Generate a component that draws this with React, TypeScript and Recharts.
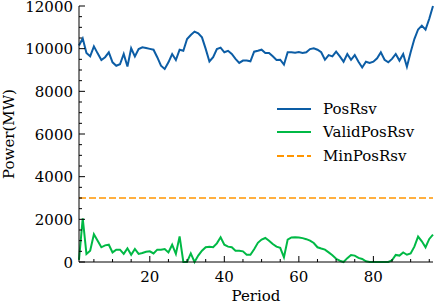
import { LineChart, Line, XAxis, YAxis, Label } from 'recharts';

// Period index 1..96
const periods = Array.from({ length: 96 }, (_, i) => i + 1);

const posRsv = [
  10150, 10480, 9800, 9640, 10110, 9780, 9470, 9600, 9830, 9360,
  9200, 9270, 9750, 9160, 10020, 9640, 9980, 10060, 10030, 9990,
  9950, 9600, 9200, 9050, 9360, 9750, 9470, 9950, 9900, 10450,
  10640, 10800, 10720, 10530, 9990, 9400, 9600, 9980, 10050, 9830,
  9900, 9750, 9520, 9330, 9440, 9440, 9410, 9860, 9900, 9950,
  9800, 9800, 9640, 9470, 9480, 9250, 9830, 9830, 9810, 9840,
  9800, 9830, 9980, 10020, 9950, 9830, 9480, 9700, 9640, 9860,
  9640, 9390, 9750, 9480, 9700, 9390, 9120, 9390, 9330, 9390,
  9550, 9830, 9480, 9360, 9520, 9750, 9440, 9750, 9150, 9830,
  10450, 10900, 11080, 10890, 11400, 12000,
];

const validPosRsv = [
  100, 2050, 380, 530, 1300, 1000, 690, 780, 810, 450,
  580, 580, 380, 640, 340, 610, 380, 420, 480, 500,
  400, 580, 580, 610, 450, 810, 380, 1200, 0, 0,
  400, 0, 300, 530, 690, 720, 690, 875, 1160, 810,
  720, 690, 530, 530, 500, 340, 340, 600, 900, 1050,
  1125, 1000, 840, 720, 660, 220, 1050, 1150, 1160, 1150,
  1120, 1070, 1000, 890, 690, 630, 580, 450, 320, 150,
  60, 0, 180, 330, 300, 190, 140, 30, 0, 0,
  0, 0, 0, 0, 80, 330, 300, 450, 340, 400,
  720, 1190, 970, 690, 1080, 1280,
];

// MinPosRsv is flat: two end points
const minPeriods = [1, 96];
const minPosRsv = [3000, 3000];

const xTicks = [5, 10, 15, 20, 25, 30, 35, 40, 45, 50, 55, 60, 65, 70, 75, 80, 85, 90, 95];
const yTicks = [
  0, 500, 1000, 1500, 2000, 2500, 3000, 3500, 4000, 4500, 5000, 5500, 6000,
  6500, 7000, 7500, 8000, 8500, 9000, 9500, 10000, 10500, 11000, 11500, 12000,
];

const series = [
  { key: 'posRsv', name: 'PosRsv', color: '#0C5DA5', dash: undefined },
  { key: 'validPosRsv', name: 'ValidPosRsv', color: '#00B945', dash: undefined },
  { key: 'minPosRsv', name: 'MinPosRsv', color: '#FF9500', dash: '7 3' },
];

const data = periods.map((p, i) => ({
  period: p,
  posRsv: posRsv[i],
  validPosRsv: validPosRsv[i],
}));
const minData = minPeriods.map((p, i) => ({ period: p, minPosRsv: minPosRsv[i] }));

const FONT = '"DejaVu Serif", serif';
const MAJOR = 6;
const MINOR = 3;

const BottomTick = (props: any) => {
  const { x, y, payload } = props;
  const major = payload.value % 20 === 0;
  return (
    <g>
      <line x1={x} y1={y} x2={x} y2={y - (major ? MAJOR : MINOR)} stroke="#000" />
      {major && (
        <text x={x} y={y + 20} textAnchor="middle" fontFamily={FONT} fontSize={15} fill="#000">
          {payload.value}
        </text>
      )}
    </g>
  );
};

const TopTick = (props: any) => {
  const { x, y, payload } = props;
  const major = payload.value % 20 === 0;
  return <line x1={x} y1={y} x2={x} y2={y + (major ? MAJOR : MINOR)} stroke="#000" />;
};

const LeftTick = (props: any) => {
  const { x, y, payload } = props;
  const major = payload.value % 2000 === 0;
  return (
    <g>
      <line x1={x} y1={y} x2={x + (major ? MAJOR : MINOR)} y2={y} stroke="#000" />
      {major && (
        <text x={x - 6} y={y + 5.5} textAnchor="end" fontFamily={FONT} fontSize={15} fill="#000">
          {payload.value}
        </text>
      )}
    </g>
  );
};

const RightTick = (props: any) => {
  const { x, y, payload } = props;
  const major = payload.value % 2000 === 0;
  return <line x1={x} y1={y} x2={x - (major ? MAJOR : MINOR)} y2={y} stroke="#000" />;
};

export default function App() {
  return (
    <div style={{ position: 'absolute', top: 0, left: 0, width: 436, height: 304 }}>
      <LineChart
        width={436}
        height={304}
        data={data}
        margin={{ top: 6, right: 3, bottom: 0, left: 0 }}
      >
        <XAxis
          dataKey="period"
          type="number"
          domain={[1, 96]}
          ticks={xTicks}
          interval={0}
          height={42}
          tickSize={0}
          tickMargin={0}
          tickLine={false}
          tick={BottomTick}
          axisLine={{ stroke: '#000' }}
        >
          <Label
            content={() => (
              <text x={256} y={301} textAnchor="middle" fontFamily={FONT} fontSize={15} fill="#000">
                Period
              </text>
            )}
          />
        </XAxis>
        <XAxis
          xAxisId="top"
          orientation="top"
          dataKey="period"
          type="number"
          domain={[1, 96]}
          ticks={xTicks}
          interval={0}
          height={0}
          tickSize={0}
          tickMargin={0}
          tickLine={false}
          tick={TopTick}
          axisLine={{ stroke: '#000' }}
        />
        <YAxis
          type="number"
          domain={[0, 12000]}
          ticks={yTicks}
          interval={0}
          width={79}
          tickSize={0}
          tickMargin={0}
          tickLine={false}
          tick={LeftTick}
          axisLine={{ stroke: '#000' }}
        >
          <Label
            content={() => (
              <text
                x={14}
                y={134}
                textAnchor="middle"
                fontFamily={FONT}
                fontSize={15}
                fill="#000"
                transform="rotate(-90, 14, 134)"
              >
                Power(MW)
              </text>
            )}
          />
        </YAxis>
        <YAxis
          yAxisId="right"
          orientation="right"
          type="number"
          domain={[0, 12000]}
          ticks={yTicks}
          interval={0}
          width={0}
          tickSize={0}
          tickMargin={0}
          tickLine={false}
          tick={RightTick}
          axisLine={{ stroke: '#000' }}
        />
        <Line
          type="linear"
          dataKey="posRsv"
          name="PosRsv"
          stroke="#0C5DA5"
          strokeWidth={2}
          dot={false}
          isAnimationActive={false}
        />
        <Line
          type="linear"
          dataKey="validPosRsv"
          name="ValidPosRsv"
          stroke="#00B945"
          strokeWidth={2}
          dot={false}
          isAnimationActive={false}
        />
        <Line
          type="linear"
          data={minData}
          dataKey="minPosRsv"
          name="MinPosRsv"
          stroke="#FF9500"
          strokeWidth={1.6}
          strokeDasharray="7 3"
          dot={false}
          isAnimationActive={false}
        />
      </LineChart>
      <div
        style={{
          position: 'absolute',
          left: 277,
          top: 97,
          fontFamily: FONT,
          fontSize: 15,
          color: '#000',
        }}
      >
        {series.map((s) => (
          <div key={s.key} style={{ display: 'flex', alignItems: 'center', height: 23.5 }}>
            <svg width={34} height={6} style={{ marginRight: 12 }}>
              <line
                x1={0}
                y1={3}
                x2={34}
                y2={3}
                stroke={s.color}
                strokeWidth={2}
                strokeDasharray={s.dash}
              />
            </svg>
            <span>{s.name}</span>
          </div>
        ))}
      </div>
    </div>
  );
}
